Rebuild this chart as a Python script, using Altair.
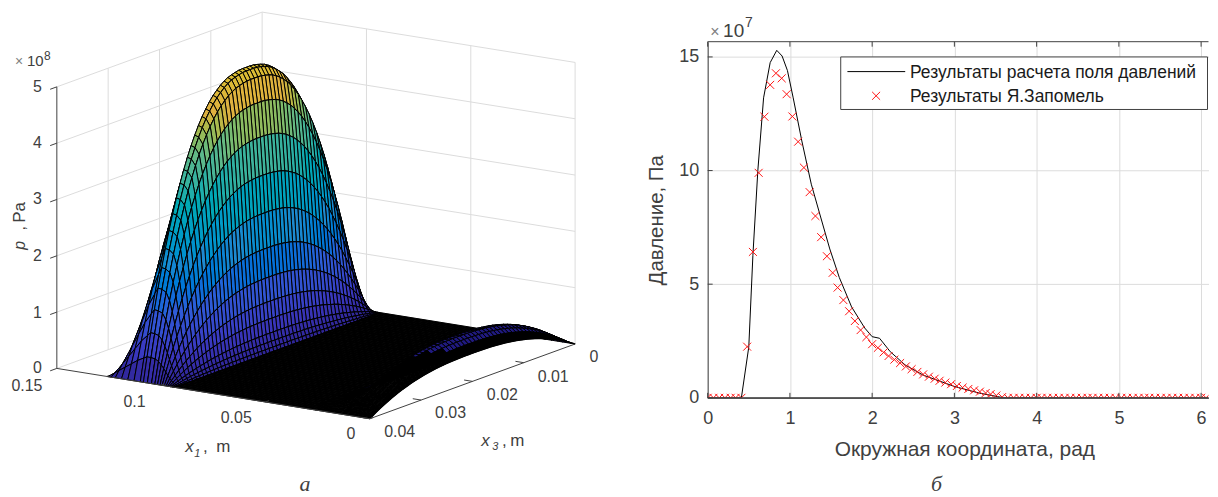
import altair as alt

# ---------- right panel: values ----------
line_x = [0, 0.41, 0.50, 0.55, 0.61, 0.68, 0.76, 0.84, 0.905, 0.97, 1.04, 1.145, 1.26, 1.37, 1.485, 1.6, 1.75,
          1.91, 2.0, 2.09, 2.22, 2.40, 2.62, 3.0, 3.3, 3.6, 4.0, 5.0, 6.09]
line_y = [0, 0, 2.24, 6.27, 10.0, 13.2, 14.75, 15.29, 15.04, 14.4, 13.2, 11.3, 9.4, 8.0, 6.55, 5.3, 4.0,
          3.07, 2.69, 2.62, 2.03, 1.45, 1.0, 0.5, 0.21, 0, 0, 0, 0]
cross_x = [0, .07, .14, .21, .28, .34, .41, .48, .55, .62, .69, .76, .83, .90, .96, 1.03, 1.10, 1.17, 1.24, 1.31,
           1.38, 1.45, 1.52, 1.58, 1.65, 1.72, 1.79, 1.86, 1.93, 2.0, 2.07, 2.14, 2.2, 2.27, 2.34, 2.41, 2.48,
           2.55, 2.62, 2.69, 2.76, 2.82, 2.89, 2.96, 3.03, 3.1, 3.17, 3.24, 3.31, 3.38, 3.44, 3.51, 3.58, 3.65,
           3.72, 3.79, 3.86, 3.93, 4.0, 4.06, 4.13, 4.2, 4.27, 4.34, 4.41, 4.48, 4.55, 4.62, 4.68, 4.75, 4.82,
           4.89, 4.96, 5.03, 5.1, 5.17, 5.24, 5.31, 5.37, 5.44, 5.51, 5.58, 5.65, 5.72, 5.79, 5.86, 5.93, 6.0,
           6.06]
cross_y = [0, 0, 0, 0, 0, 0, 0, 2.25, 6.42, 9.9, 12.37, 13.77, 14.28, 14.06, 13.36, 12.38, 11.27, 10.13, 9.05, 8.0,
           7.07, 6.23, 5.5, 4.85, 4.3, 3.81, 3.38, 2.98, 2.67, 2.36, 2.2, 2.0, 1.84, 1.68, 1.53, 1.38, 1.26,
           1.14, 1.03, .93, .84, .75, .67, .6, .52, .45, .39, .33, .27, .21, .16, .1, .03] + [0] * 36
x_ticks = [0, 1, 2, 3, 4, 5, 6]
y_ticks = [0, 5, 10, 15]

# ---------- left panel: surface ----------
x1_st = [0, .002, .004, .006, .008, .011, .014, .018, .022, .026, .03, .0935,
         .0940, .0947, .0954, .0961, .0968, .0976, .0985, .0995, .1005, .1017, .1030, .1046, .1066,
         .1085, .110, .113, .116, .119, .122, .124, .126]
p_st = [.50, .65, .72, .77, .77, .65, .48, .30, .15, .05, 0, 0,
        .07, .17, .31, .55, .85, 1.27, 1.78, 2.40, 3.06, 3.73, 4.33, 4.76, 4.9,
        4.93, 4.6, 3.9, 3.0, 2.1, 1.2, .6, 0]
arch_from = .0935
arch_to = .1066
half_f = [1.000, 1.000, .999, .996, .992, .987, .979, .969, .956, .942, .924, .903, .880, .853, .823,
          .790, .753, .713, .669, .621, .569, .513, .453, .389, .320, .247, .169, .087, 0]
f_st = half_f[::-1] + half_f[1:]
x3_st = [0.04 * j / 56 for j in range(57)]

parula_at = [0, .02, .5, 1.2, 2.0, 3.0, 3.7, 4.4, 5.0]
parula = ["#1e1678", "#2f2596", "#3a38c0", "#2f5cd8", "#1f8ad0", "#12aab0", "#5fb88a", "#e0b040", "#d8c030"]


def proj(x1, x3, p):
    return [577 - 314 * x1 / .15 - 206 * x3 / .04, 344 - 50.5 * x1 / .15 + 75 * x3 / .04 - 56.5 * p]


def feat(kind, coords, p=0, line=False, w=.5, s="#000000", dark=False, dim=False):
    return {"type": "Feature",
            "geometry": {"type": kind, "coordinates": coords},
            "properties": {"p": p, "line": line, "w": w, "s": s, "dark": dark, "dim": dim}}


walls = []
GRID = "#dcdcdc"
for z in range(6):
    walls.append(feat("LineString", [proj(.15, .04, z), proj(.15, 0, z), proj(0, 0, z)], line=True, w=1, s=GRID))
for x3 in [.03, .02, .01, 0]:
    walls.append(feat("LineString", [proj(.15, x3, 0), proj(.15, x3, 5)], line=True, w=1, s=GRID))
for x1 in [.1, .05, 0]:
    walls.append(feat("LineString", [proj(x1, 0, 0), proj(x1, 0, 5)], line=True, w=1, s=GRID))
# transparent anchor that pins the panel's top left corner to the page margin
walls.append(feat("LineString", [[8, 8], [8, 489]], line=True, w=0, s="#ffffff"))

surface = []
n = len(x1_st)
for i in range(n - 1, 0, -1):
    xa, xb, pa, pb = x1_st[i], x1_st[i - 1], p_st[i], p_st[i - 1]
    for j in range(56):
        t0, t1, f0, f1 = x3_st[j], x3_st[j + 1], f_st[j], f_st[j + 1]
        ring = [proj(xa, t0, pa * f0), proj(xa, t1, pa * f1), proj(xb, t1, pb * f1), proj(xb, t0, pb * f0)]
        ring.append(ring[0])
        low = xa <= .03
        cut = min(.029, .022 + xb)
        surface.append(feat("Polygon", [ring], p=(pa + pb) * (f0 + f1) / 4, w=1.0,
                            dark=(pa == 0 and pb == 0) or xa <= .002 or (low and t0 > cut), dim=low))
    if arch_from <= xb <= arch_to or xb == 0:
        surface.append(feat("LineString", [proj(xb, x3_st[j], pb * f_st[j]) for j in range(57)], line=True,
                            w=1.1 if xb > .05 else 1.4))

AX = "#404040"
axes3d = [feat("LineString", [proj(.15, .04, 0), proj(.15, .04, 5)], line=True, w=1, s=AX),
          feat("LineString", [proj(.15, .04, 0), proj(0, .04, 0), proj(0, 0, 0)], line=True, w=1, s=AX)]
for z in range(6):
    axes3d.append(feat("LineString", [proj(.15, .04, z), proj(.15, .0413, z)], line=True, w=1, s=AX))
for x1 in [.1, .05, 0]:
    axes3d.append(feat("LineString", [proj(x1, .04, 0), proj(x1, .0393, 0)], line=True, w=1, s=AX))
for x3 in [.01, .02, .03, .04]:
    axes3d.append(feat("LineString", [proj(0, x3, 0), proj(.004, x3, 0)], line=True, w=1, s=AX))

OX, OY = 8, 40.7
W1, H = 640, 357.3
FONT = "Liberation Sans"
SERIF = "Liberation Serif"
INK = "#404040"
identity = dict(type="identity", scale=1, translate=[-OX, -OY])


def shapes(features):
    return alt.Chart(alt.Data(values=features)).mark_geoshape(strokeJoin="round", clip=False).encode(
        fill=alt.Fill("properties.p:Q", scale=alt.Scale(domain=parula_at, range=parula), legend=None,
                      condition=[{"test": "datum.properties.line", "value": "transparent"},
                                 {"test": "datum.properties.dark", "value": "#000000"},
                                 {"test": "datum.properties.dim", "value": "#201a80"}]),
        stroke=alt.Stroke("properties.s:N", scale=None),
        strokeWidth=alt.StrokeWidth("properties.w:Q", scale=None),
    ).project(**identity)


def labels(rows, size=15, font=FONT, color=INK, **kw):
    return alt.Chart(alt.Data(values=[{"x": r[0], "y": r[1], "t": r[2]} for r in rows])).mark_text(
        font=font, fontSize=size, color=color, clip=False, **kw
    ).encode(longitude="x:Q", latitude="y:Q", text="t:N").project(**identity)


left = alt.layer(
    shapes(walls),
    shapes(surface),
    shapes(axes3d),
    labels([(42, 86, "5"), (42, 142.7, "4"), (42, 199, "3"), (42, 256, "2"), (42, 312.7, "1"), (42, 368.5, "0")], size=16,
           align="right", baseline="middle"),
    labels([(27, 386, "0.15"), (135, 402, "0.1"), (237, 418, "0.05"), (352, 434, "0"),
            (596, 357, "0"), (555, 377, "0.01"), (504, 395, "0.02"), (452, 413, "0.03"), (401, 432, "0.04")],
           size=16, align="center", baseline="middle"),
    labels([(15, 61, "×")], size=14, color="#808080", align="left", baseline="middle"),
    labels([(27, 60, "10")], size=15, align="left", baseline="middle"),
    labels([(44, 55, "8")], size=12, align="left", baseline="middle"),
    labels([(20, 245, "p")], size=16, fontStyle="italic", angle=270, align="center", baseline="middle"),
    labels([(20, 228, ",")], size=16, angle=270, align="center", baseline="middle"),
    labels([(20, 212, "Pa")], size=17, angle=270, align="center", baseline="middle"),
    labels([(190, 447, "x"), (487, 441, "x")], size=17, fontStyle="italic", align="center", baseline="middle"),
    labels([(198, 454, "1"), (497, 447, "3")], size=11, fontStyle="italic", align="center", baseline="middle"),
    labels([(206, 447, ","), (506, 441, ",")], size=17, align="center", baseline="middle"),
    labels([(217, 447, "m"), (512, 441, "m")], size=17, align="left", baseline="middle"),
    labels([(306, 491, "a")], size=22, font=SERIF, fontStyle="italic", align="center", baseline="alphabetic"),
).properties(width=W1, height=H)

# ---------- right panel ----------
PX, PY = 707.5, 40.7
WR, HR = 502.5, 357.3
xs = alt.Scale(domain=[0, 6.09], nice=False, zero=False)
ys = alt.Scale(domain=[0, 15.67], nice=False)
line_df = alt.Data(values=[{"x": a, "y": b} for a, b in zip(line_x, line_y)])
cross_df = alt.Data(values=[{"x": a, "y": b} for a, b in zip(cross_x, cross_y)])
xt = alt.Data(values=[{"x": v} for v in x_ticks])
yt = alt.Data(values=[{"y": v} for v in y_ticks])
CROSS = "M-1,-1L1,1M-1,1L1,-1"

base = alt.Chart(line_df).mark_line(color="#000000", strokeWidth=1, clip=True).encode(
    x=alt.X("x:Q", scale=xs, axis=alt.Axis(
        values=x_ticks, title="Окружная координата, рад", grid=True, gridColor=GRID, gridWidth=1, ticks=False,
        domainColor=INK, labelFont=FONT, labelFontSize=18, labelColor=INK, labelPadding=12, labelFlush=False,
        titleFont=FONT, titleFontSize=21, titleColor=INK, titleFontWeight="normal", titlePadding=11,
        titleX=257.5, format="d")),
    y=alt.Y("y:Q", scale=ys, axis=alt.Axis(
        values=y_ticks, title="Давление, Па", grid=True, gridColor=GRID, gridWidth=1, ticks=False,
        domainColor=INK, labelFont=FONT, labelFontSize=18, labelColor=INK, labelPadding=9, labelFlush=False,
        titleFont=FONT, titleFontSize=20.5, titleColor=INK, titleFontWeight="normal", titlePadding=12, format="d")),
)
crosses = alt.Chart(cross_df).mark_point(shape=CROSS, color="#ff1515", size=64, strokeWidth=1, filled=False,
                                         opacity=1, clip=True).encode(x=alt.X("x:Q", scale=xs), y=alt.Y("y:Q", scale=ys))
one = alt.Data(values=[{"a": 1}])
top_line = alt.Chart(one).mark_rule(color=INK, strokeWidth=1).encode(
    x=alt.value(0), x2=alt.value(WR), y=alt.value(0))
bottom_line = alt.Chart(one).mark_rule(color=INK, strokeWidth=1.2).encode(
    x=alt.value(0), x2=alt.value(WR), y=alt.value(HR))
top_ticks = alt.Chart(xt).mark_rule(color=INK, strokeWidth=1).encode(
    x=alt.X("x:Q", scale=xs), y=alt.value(0), y2=alt.value(5))
bot_ticks = alt.Chart(xt).mark_rule(color=INK, strokeWidth=1).encode(
    x=alt.X("x:Q", scale=xs), y=alt.value(HR), y2=alt.value(HR - 5))
left_ticks = alt.Chart(yt).mark_rule(color=INK, strokeWidth=1).encode(
    y=alt.Y("y:Q", scale=ys), x=alt.value(0), x2=alt.value(5))


def at(px, py, text, size=16, font=FONT, **kw):
    return alt.Chart(one).mark_text(font=font, fontSize=size, color=kw.pop("color", INK), **kw).encode(
        x=alt.value(px - PX), y=alt.value(py - PY), text=alt.value(text))


box = alt.Chart(one).mark_rect(fill="#ffffff", stroke=INK, strokeWidth=1).encode(
    x=alt.value(841 - PX), x2=alt.value(1209 - PX), y=alt.value(56 - PY), y2=alt.value(108.7 - PY))
key_line = alt.Chart(one).mark_rule(color="#000000", strokeWidth=1).encode(
    x=alt.value(847.7 - PX), x2=alt.value(905.7 - PX), y=alt.value(70.7 - PY))
key_cross = alt.Chart(one).mark_point(shape=CROSS, color="#ff1515", size=64, strokeWidth=1, filled=False, opacity=1).encode(
    x=alt.value(876.5 - PX), y=alt.value(95 - PY))

right = alt.layer(
    base, crosses, top_line, bottom_line, top_ticks, bot_ticks, left_ticks, box, key_line, key_cross,
    at(910.5, 71.7, "Результаты расчета поля давлений", size=17.5, align="left", baseline="middle", color="#1a1a1a"),
    at(910.5, 96.7, "Результаты Я.Запомель", size=17.5, align="left", baseline="middle", color="#1a1a1a"),
    at(710, 31, "×", size=16, align="left", baseline="middle", color="#808080"),
    at(723, 30, "10", size=19, align="left", baseline="middle"),
    at(745, 22, "7", size=14, align="left", baseline="middle"),
    at(937, 491, "б", size=22, font=SERIF, align="center", baseline="alphabetic", fontStyle="italic"),
).properties(width=WR, height=HR)

chart = alt.hconcat(left, right, spacing=0).configure_view(stroke=None).properties(padding=0, background="white")
chart.save("out.html", embed_options={"renderer": "svg", "actions": False})
